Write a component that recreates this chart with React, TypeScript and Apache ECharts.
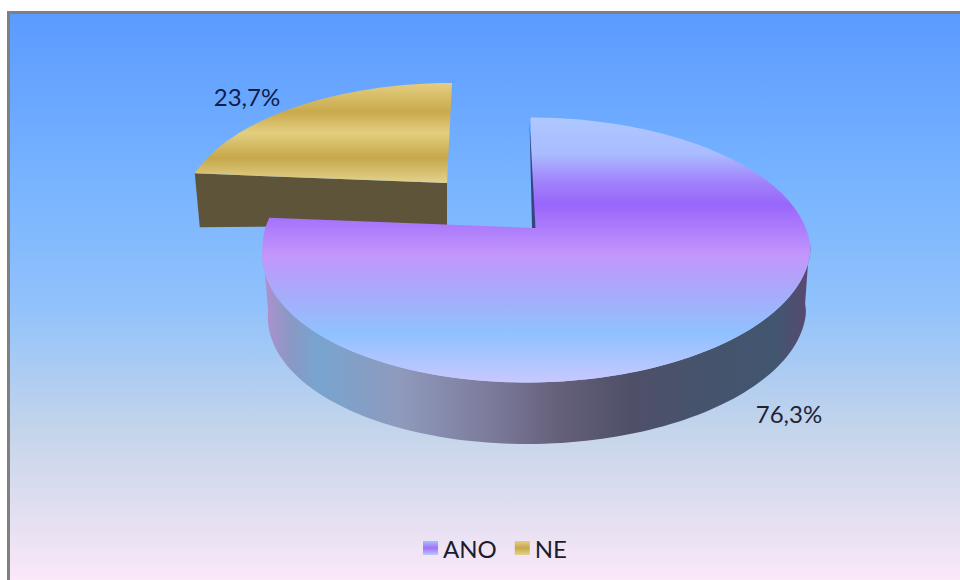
import React, { useEffect, useRef } from "react";
import * as echarts from "echarts";

const categories = ["ANO", "NE"];
const values = [76.3, 23.7];

const total = values.reduce((a, b) => a + b, 0);
const FONT = "Lato, 'Open Sans', sans-serif";

type Geo = { cx: number; cy: number; rx: number; ry: number; a: number; s: number; sb: number; ax: number };
const topAno: Geo = { cx: 536.5, cy: 250, rx: 274, ry: 132.5, a: -0.166, s: -6, sb: -10, ax: -2 };
const lowAno: Geo = { cx: 537, cy: 312, rx: 269, ry: 132, a: -0.166, s: -6, sb: -10, ax: -2 };
const topNe: Geo = { cx: 445.75, cy: 208, rx: 263, ry: 125, a: -0.2, s: 6.25, sb: 0, ax: 0 };

function shift(g: Geo, ys: number) {
  return ys < 0 ? g.s * -ys : g.sb * ys;
}
function project(g: Geo, deg: number): number[] {
  const t = (deg * Math.PI) / 180;
  const u = Math.sin(t);
  const v = -Math.cos(t);
  const d = 1 + g.a * v;
  const ys = (v + g.a) / d;
  const xs = (u * Math.sqrt(1 - g.a * g.a)) / d;
  return [g.cx + g.rx * xs + shift(g, ys), g.cy + g.ry * ys];
}
function apex(g: Geo): number[] {
  return [g.cx + shift(g, g.a) + g.ax, g.cy + g.ry * g.a];
}
function rim(g: Geo, from: number, to: number): number[][] {
  const n = Math.max(2, Math.ceil(Math.abs(to - from) / 1.5));
  const out: number[][] = [];
  for (let i = 0; i <= n; i++) out.push(project(g, from + ((to - from) * i) / n));
  return out;
}
const stops = (list: [number, string][]) => list.map(([offset, color]) => ({ offset, color }));
const vGrad = (y0: number, y1: number, list: [number, string][]) =>
  new echarts.graphic.LinearGradient(0, y0, 0, y1, stops(list), true);
const hGrad = (x0: number, x1: number, list: [number, string][]) =>
  new echarts.graphic.LinearGradient(x0, 0, x1, 0, stops(list), true);

const anoTopStops: [number, string][] = [
  [0, "#aec8ff"],
  [0.14, "#a9bcff"],
  [0.24, "#a284fb"],
  [0.33, "#9966fb"],
  [0.52, "#c396fb"],
  [0.66, "#a8aafa"],
  [0.82, "#90c2ff"],
  [1, "#c8c8ff"],
];
const neTopStops: [number, string][] = [
  [0, "#e3ce80"],
  [0.29, "#c9a94d"],
  [0.5, "#e3cf80"],
  [0.75, "#c6a74b"],
  [1, "#e3d38e"],
];
const anoSideStops: [number, string][] = [
  [0, "#b090d0"],
  [0.05, "#8a98c4"],
  [0.1, "#78a4d0"],
  [0.25, "#8f9abc"],
  [0.43, "#7a7898"],
  [0.54, "#65607a"],
  [0.67, "#4f5068"],
  [0.8, "#46536c"],
  [0.94, "#425670"],
  [1, "#5a4870"],
];

function pct(v: number) {
  return v.toFixed(1).replace(".", ",") + "%";
}

function renderAno(_p: any, api: any) {
  const sweep = (api.value(0) / total) * 360;
  const top = [apex(topAno), ...rim(topAno, 0, sweep)];
  const side = [...rim(topAno, 96, 262), ...rim(lowAno, 262, 96)];
  const ap = apex(topAno);
  const st = project(topAno, 0);
  return {
    type: "group",
    children: [
      {
        type: "polygon",
        shape: { points: side },
        style: { fill: hGrad(263, 810, anoSideStops) },
      },
      {
        type: "polygon",
        shape: { points: top },
        style: { fill: vGrad(117, 382, anoTopStops) },
      },
      {
        type: "polygon",
        shape: { points: [[st[0] - 1, st[1] + 3], [ap[0] + 2, ap[1]], [ap[0] - 1.5, ap[1]]] },
        style: { fill: "#35457f" },
      },
      {
        type: "text",
        style: {
          text: pct(api.value(0)),
          x: 789,
          y: 413,
          align: "center",
          verticalAlign: "middle",
          font: `24px ${FONT}`,
          fill: "#1d2436",
        },
      },
    ],
  };
}

function renderNe(_p: any, api: any) {
  const sweep = (api.value(0) / total) * 360;
  const from = 360 - sweep;
  const top = [apex(topNe), ...rim(topNe, from, 360)];
  const l = project(topNe, from);
  const ap = apex(topNe);
  return {
    type: "group",
    children: [
      {
        type: "polygon",
        shape: { points: [l, ap, [ap[0], ap[1] + 42], [l[0] + 5, l[1] + 54]] },
        style: { fill: "#5e5439" },
      },
      {
        type: "polygon",
        shape: { points: top },
        style: { fill: vGrad(83, 183, neTopStops) },
      },
      {
        type: "text",
        style: {
          text: pct(api.value(0)),
          x: 247,
          y: 96,
          align: "center",
          verticalAlign: "middle",
          font: `24px ${FONT}`,
          fill: "#101c4c",
        },
      },
    ],
  };
}

export default function App() {
  const ref = useRef<HTMLDivElement>(null);
  useEffect(() => {
    const chart = echarts.init(ref.current!, undefined, { renderer: "svg" });
    const legendAno = new echarts.graphic.LinearGradient(0, 0, 0, 1, stops([
      [0, "#a9c0ff"],
      [0.5, "#a070fb"],
      [1, "#b8c8ff"],
    ]));
    const legendNe = new echarts.graphic.LinearGradient(0, 0, 0, 1, stops([
      [0, "#e3cf80"],
      [0.5, "#c6a74b"],
      [1, "#e3d38e"],
    ]));
    chart.setOption({
      animation: false,
      backgroundColor: "#ffffff",
      graphic: {
        elements: [
          {
            type: "rect",
            z: -10,
            silent: true,
            shape: { x: 8.5, y: 12.5, width: 960, height: 580 },
            style: {
              stroke: "#808080",
              lineWidth: 3,
              fill: vGrad(14, 580, [
                [0, "#5b9bff"],
                [0.3, "#78b4ff"],
                [0.52, "#92c2fb"],
                [0.74, "#c5d5ea"],
                [0.9, "#e6e0f2"],
                [1, "#fbe8f8"],
              ]),
            },
          },
        ],
      },
      legend: {
        left: 423,
        top: 536,
        orient: "horizontal",
        itemWidth: 15,
        itemHeight: 14,
        itemGap: 18,
        icon: "rect",
        selectedMode: false,
        padding: 0,
        textStyle: { fontFamily: FONT, fontSize: 24, color: "#1c1c30" },
        data: [
          { name: categories[0], itemStyle: { color: legendAno } },
          { name: categories[1], itemStyle: { color: legendNe } },
        ],
      },
      series: [
        {
          type: "custom",
          name: categories[1],
          coordinateSystem: "none",
          renderItem: renderNe,
          data: [values[1]],
          silent: true,
          z: 2,
        },
        {
          type: "custom",
          name: categories[0],
          coordinateSystem: "none",
          renderItem: renderAno,
          data: [values[0]],
          silent: true,
          z: 3,
        },
      ],
    });
    return () => chart.dispose();
  }, []);
  return (
    <div
      ref={ref}
      style={{ position: "absolute", left: 0, top: 0, width: 960, height: 580 }}
    />
  );
}
